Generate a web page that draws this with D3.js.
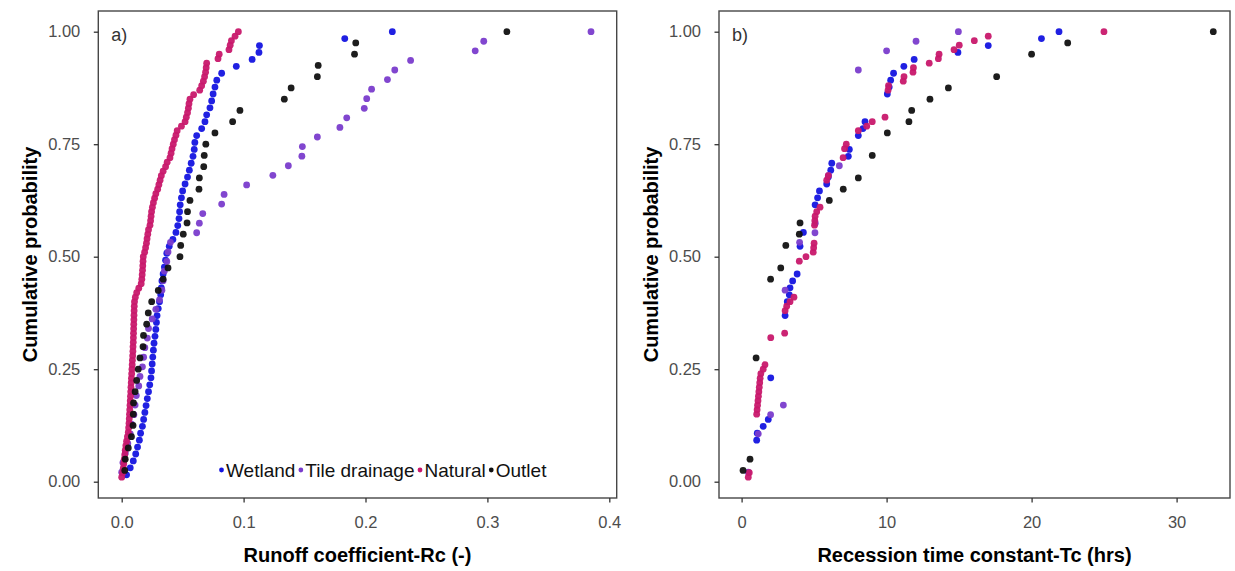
<!DOCTYPE html>
<html><head><meta charset="utf-8">
<script src="https://cdn.jsdelivr.net/npm/d3@7"></script>
<style>body{margin:0;background:#fff}svg{display:block;font-family:"Liberation Sans",Arial,Helvetica,sans-serif}</style>
</head><body><svg id="c" width="1235" height="571"></svg>
<script>
// ---------------- data ----------------
const seriesNames = ["Wetland", "Tile drainage", "Natural", "Outlet"];
const seriesColors = ["#1414e0", "#7a3ccc", "#c8186c", "#111111"];

// Panel a: runoff coefficient Rc (-) samples per site
const rcWetland = [0.004,0.007,0.0095,0.0115,0.013,0.0145,0.0155,0.017,0.018,0.019,
  0.020,0.021,0.022,0.023,0.024,0.0245,0.025,0.0255,0.026,0.0265,
  0.0273,0.028,0.0285,0.029,0.030,0.031,0.032,0.0325,0.033,0.034,
  0.035,0.036,0.037,0.039,0.042,0.0445,0.046,0.047,0.0475,0.048,
  0.049,0.050,0.052,0.054,0.0555,0.057,0.0585,0.0595,0.060,0.0615,
  0.0656,0.0683,0.0697,0.0724,0.0738,0.075,0.0765,0.078,0.082,0.094,
  0.107,0.1126,0.113,0.183,0.222];
const rcTile = [0.000,0.001,0.003,0.005,0.007,0.008,0.010,0.011,0.012,0.014,
  0.015,0.017,0.018,0.019,0.021,0.022,0.025,0.028,0.031,0.033,
  0.034,0.035,0.037,0.038,0.040,0.0615,0.0637,0.0665,0.082,0.084,
  0.1025,0.124,0.1367,0.1478,0.1482,0.1605,0.179,0.1846,0.199,0.201,
  0.205,0.218,0.224,0.237,0.290,0.297,0.385];
const rcNatural = [0.0000,0.0008,0.0013,0.0017,0.0021,0.0025,0.0029,0.0034,0.0040,0.0047,
  0.0054,0.0057,0.0060,0.0062,0.0064,0.0066,0.0068,0.0070,0.0072,0.0074,
  0.0076,0.0078,0.0080,0.0082,0.0084,0.0086,0.0088,0.0090,0.0092,0.0093,
  0.0095,0.0096,0.0097,0.0098,0.0099,0.0100,0.0101,0.0102,0.0103,0.0105,
  0.0112,0.0123,0.0140,0.0160,0.0165,0.0168,0.0171,0.0173,0.0175,0.0177,
  0.0188,0.0196,0.0203,0.0208,0.0214,0.0220,0.0232,0.0237,0.0241,0.0245,
  0.0252,0.0260,0.0270,0.0280,0.0295,0.0305,0.0315,0.0325,0.0340,0.0360,
  0.0373,0.0396,0.0405,0.0413,0.0423,0.0433,0.0445,0.0455,0.0490,0.0520,
  0.0530,0.0540,0.0547,0.0552,0.0560,0.0590,0.0640,0.0656,0.0670,0.0680,
  0.0688,0.0693,0.0697,0.0790,0.0800,0.0880,0.0890,0.0900,0.0930,0.0957];
const rcOutlet = [0.0025,0.0029,0.0054,0.008,0.0093,0.0095,0.0097,0.011,0.0123,0.0136,
  0.015,0.0175,0.0179,0.0205,0.0218,0.0246,0.030,0.034,0.038,0.0478,
  0.0484,0.0505,0.0536,0.0540,0.056,0.0634,0.0637,0.0673,0.0677,0.069,
  0.0765,0.091,0.097,0.1334,0.139,0.1605,0.1612,0.191,0.192,0.316];

// Panel b: recession time constant Tc (hrs) samples per site
const tcWetland = [1.04,1.04,1.04,1.04,1.04,1.04,1.08,1.49,1.84,
  2.01,2.01,2.01,2.01,2.01,2.01,
  3.0,3.0,3.0,3.0,3.0,3.0,3.0,3.0,3.0,
  3.15,3.15,3.29,3.34,3.52,3.83,4.03,4.03,4.03,4.03,4.26,4.26,
  5.07,5.07,5.07,5.07,5.24,5.37,5.87,5.98,6.15,6.22,7.36,7.43,8.05,8.05,8.37,8.51,
  10.05,10.05,10.05,10.05,10.18,10.28,10.48,11.19,11.9,14.92,17.01,20.68,21.89];
const tcTile = [0.46,1.15,1.15,1.15,1.15,2.0,2.0,2.88,
  3.0,3.0,3.0,3.0,3.0,3.0,3.0,3.0,3.0,3.0,3.0,3.0,
  4.0,4.0,4.0,4.0,4.0,5.06,5.08,6.0,6.0,6.0,6.0,6.0,6.74,
  8.05,8.05,8.05,8.05,8.05,8.05,8.05,8.05,8.05,8.05,10.0,10.0,12.03,14.95];
const tcNatural = [0.46,0.53,
  1.04,1.04,1.04,1.04,1.04,1.04,1.04,1.04,1.04,1.04,1.04,1.04,1.04,
  1.07,1.10,1.13,1.16,1.19,1.22,1.25,1.28,1.33,1.49,1.61,
  2.01,2.01,2.01,2.01,2.01,2.01,2.97,3.0,3.0,3.0,3.0,3.0,3.11,3.34,3.61,
  3.98,3.98,3.98,3.98,3.98,3.98,3.98,3.98,4.44,4.94,4.97,5.0,5.03,5.03,5.03,5.03,5.05,5.07,5.18,5.41,
  5.87,5.87,5.87,5.87,5.87,5.87,5.98,7.0,7.0,7.0,7.0,7.1,7.1,7.22,8.05,8.05,8.05,8.63,9.01,9.89,
  10.1,10.1,10.1,10.1,10.1,10.1,10.13,11.15,11.2,11.82,11.85,12.94,13.57,13.62,14.65,15.01,16.05,17.01,24.99];
const tcOutlet = [0.1,0.58,1.0,1.0,1.0,1.0,1.0,1.0,1.0,1.0,1.0,
  2.0,2.0,2.0,2.0,2.0,2.0,2.0,2.7,3.05,3.05,3.98,4.03,6.05,6.05,7.01,8.05,9.01,9.01,
  10.05,10.05,11.54,11.73,12.99,14.26,17.59,20.0,20.0,22.49,32.53];

const yTickValues = [0, 0.25, 0.5, 0.75, 1];
const xTickValuesA = [0, 0.1, 0.2, 0.3, 0.4];
const xTickValuesB = [0, 10, 20, 30];
const panelLetters = ["a)", "b)"];
const xTitles = ["Runoff coefficient-Rc (-)", "Recession time constant-Tc (hrs)"];
const yTitle = "Cumulative probability";

// ---------------- helpers ----------------
function ecdf(values) {
  const s = values.slice().sort((a, b) => a - b);
  const n = s.length, out = [];
  for (let i = 0; i < n; i++) {
    if (i < n - 1 && s[i] === s[i + 1]) continue;
    out.push({x: s[i], p: (i + 1) / n});
  }
  return out;
}

const svg = d3.select("#c");
const FONT_TICK = 16.5, FONT_TITLE = 20, FONT_LEG = 19;

const panels = [
  {left: 98.3, right: 616.7, px0: 121.7, pxPerUnit: 1219, ticks: xTickValuesA, fmt: d3.format(".1f"),
   data: [rcWetland, rcTile, rcNatural, rcOutlet]},
  {left: 719, right: 1230, px0: 741.6, pxPerUnit: 14.5, ticks: xTickValuesB, fmt: d3.format("d"),
   data: [tcWetland, tcTile, tcNatural, tcOutlet]}
];
const plotTop = 11, plotBottom = 498, py0 = 481.7, pyPerUnit = 450;

panels.forEach((P, pi) => {
  const x = d3.scaleLinear()
    .domain([(P.left - P.px0) / P.pxPerUnit, (P.right - P.px0) / P.pxPerUnit])
    .range([P.left, P.right]);
  const y = d3.scaleLinear()
    .domain([(py0 - plotBottom) / pyPerUnit, (py0 - plotTop) / pyPerUnit])
    .range([plotBottom, plotTop]);
  const g = svg.append("g");

  g.append("rect").attr("x", P.left).attr("y", plotTop)
    .attr("width", P.right - P.left).attr("height", plotBottom - plotTop)
    .attr("fill", "#fff").attr("stroke", "#474747").attr("stroke-width", 1.4);

  // x axis
  const xa = g.append("g").attr("transform", `translate(0,${plotBottom})`)
    .call(d3.axisBottom(x).tickValues(P.ticks).tickFormat(P.fmt).tickSize(4.5).tickPadding(14));
  xa.select(".domain").remove();
  xa.selectAll(".tick line").attr("stroke", "#333").attr("stroke-width", 1.3);
  xa.selectAll(".tick text").attr("fill", "#4d4d4d").style("font-size", FONT_TICK + "px")
    .style("font-family", "Liberation Sans, Arial, sans-serif");

  // y axis
  const ya = g.append("g").attr("transform", `translate(${P.left},0)`)
    .call(d3.axisLeft(y).tickValues(yTickValues).tickFormat(d3.format(".2f")).tickSize(4.5).tickPadding(13.5));
  ya.select(".domain").remove();
  ya.selectAll(".tick line").attr("stroke", "#333").attr("stroke-width", 1.3);
  ya.selectAll(".tick text").attr("fill", "#4d4d4d").style("font-size", FONT_TICK + "px")
    .style("font-family", "Liberation Sans, Arial, sans-serif");

  // titles
  g.append("text").attr("x", (P.left + P.right) / 2).attr("y", 562)
    .attr("text-anchor", "middle").attr("font-weight", "bold").attr("font-size", FONT_TITLE)
    .attr("fill", "#000").text(xTitles[pi]);
  g.append("text").attr("transform", `translate(${P.left - 61},${(plotTop + plotBottom) / 2}) rotate(-90)`)
    .attr("text-anchor", "middle").attr("font-weight", "bold").attr("font-size", FONT_TITLE)
    .attr("fill", "#000").text(yTitle);

  g.append("text").attr("x", P.left + 13).attr("y", 40.5).attr("font-size", 18)
    .attr("fill", "#333").text(panelLetters[pi]);

  // points
  const clipId = "clip" + pi;
  svg.append("clipPath").attr("id", clipId).append("rect")
    .attr("x", P.left).attr("y", plotTop).attr("width", P.right - P.left).attr("height", plotBottom - plotTop);
  const pg = g.append("g").attr("clip-path", `url(#${clipId})`);
  P.data.forEach((vals, si) => {
    pg.append("g").selectAll("circle").data(ecdf(vals)).join("circle")
      .attr("cx", d => x(d.x)).attr("cy", d => y(d.p)).attr("r", 3.4)
      .attr("fill", seriesColors[si]).attr("fill-opacity", 0.95);
  });

  // legend in panel a
  if (pi === 0) {
    let cx = 221.5;
    const lg = g.append("g");
    seriesNames.forEach((name, si) => {
      lg.append("circle").attr("cx", cx).attr("cy", 470).attr("r", 2.4).attr("fill", seriesColors[si]);
      const t = lg.append("text").attr("x", cx + 4.5).attr("y", 476.8).attr("font-size", FONT_LEG)
        .attr("fill", "#111").text(name);
      cx = cx + 4.5 + t.node().getComputedTextLength() + 5.5;
    });
  }
});
</script></body></html>
